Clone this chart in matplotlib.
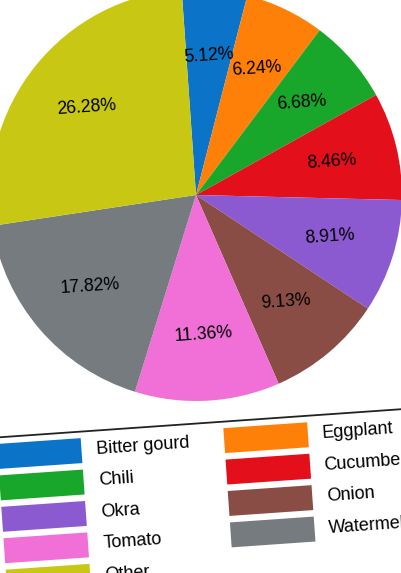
import matplotlib
matplotlib.use("Agg")
import matplotlib.pyplot as plt
from matplotlib.patches import Rectangle
from matplotlib.transforms import Affine2D

plt.rcParams['font.family'] = ['Liberation Sans', 'DejaVu Sans']

labels = ["Bitter gourd", "Eggplant", "Chili", "Cucumber", "Okra",
          "Onion", "Tomato", "Watermelon", "Other"]
values = [5.12, 6.24, 6.68, 8.46, 8.91, 9.13, 11.36, 17.82, 26.28]
colors = ["#0b74c8", "#ff8008", "#18a62b", "#e3101c", "#8c5ad0",
          "#8a4d45", "#f070d8", "#767b80", "#c8c814"]

W, H = 402, 573
fig = plt.figure(figsize=(W / 100, H / 100), dpi=100)
fig.patch.set_facecolor("white")

# pie centre (pixels, y up) and radius
cx, cy, r = 196, 378, 206
tilt = 4.0

ax = fig.add_axes([(cx - r) / W, (cy - r) / H, 2 * r / W, 2 * r / H])
wedges, texts, autotexts = ax.pie(
    values, colors=colors, startangle=90 + tilt, counterclock=False,
    autopct="%.2f%%", pctdistance=0.68, radius=1.0,
    textprops=dict(fontsize=12.7, color="black"))
for t in autotexts:
    t.set_rotation(tilt)
    t.set_rotation_mode("anchor")
    t.set_ha("center")
    t.set_va("center")
ax.set_xlim(-1, 1)
ax.set_ylim(-1, 1)
ax.set_aspect("equal")
ax.axis("off")

# legend drawn in an overlay, tilted like the picture
ov = fig.add_axes([0, 0, 1, 1], zorder=5)
ov.set_xlim(0, W)
ov.set_ylim(0, H)
ov.axis("off")
ov.patch.set_alpha(0)
rot = Affine2D().rotate_deg_around(cx, cy, tilt) + ov.transData

frame_top = H - 423
ov.add_patch(Rectangle((-40, frame_top - 300), 500, 300, facecolor="white",
                       edgecolor="#222222", lw=1.3, transform=rot))

row0 = H - 442
row_step = 31.5
patch_cx = [22, 249]
text_x = [79, 305]
pw, ph = 84, 25
for k, (lab, col) in enumerate(zip(labels, colors)):
    row, c = divmod(k, 2)
    yc = row0 - row * row_step
    ov.add_patch(Rectangle((patch_cx[c] - pw / 2, yc - ph / 2), pw, ph,
                           facecolor=col, edgecolor="none", transform=rot))
    ov.text(text_x[c], yc, lab, fontsize=13, color="black", ha="left",
            va="center", rotation=tilt, rotation_mode="anchor", transform=rot)

fig.savefig("out.png", dpi=100, facecolor="white")
